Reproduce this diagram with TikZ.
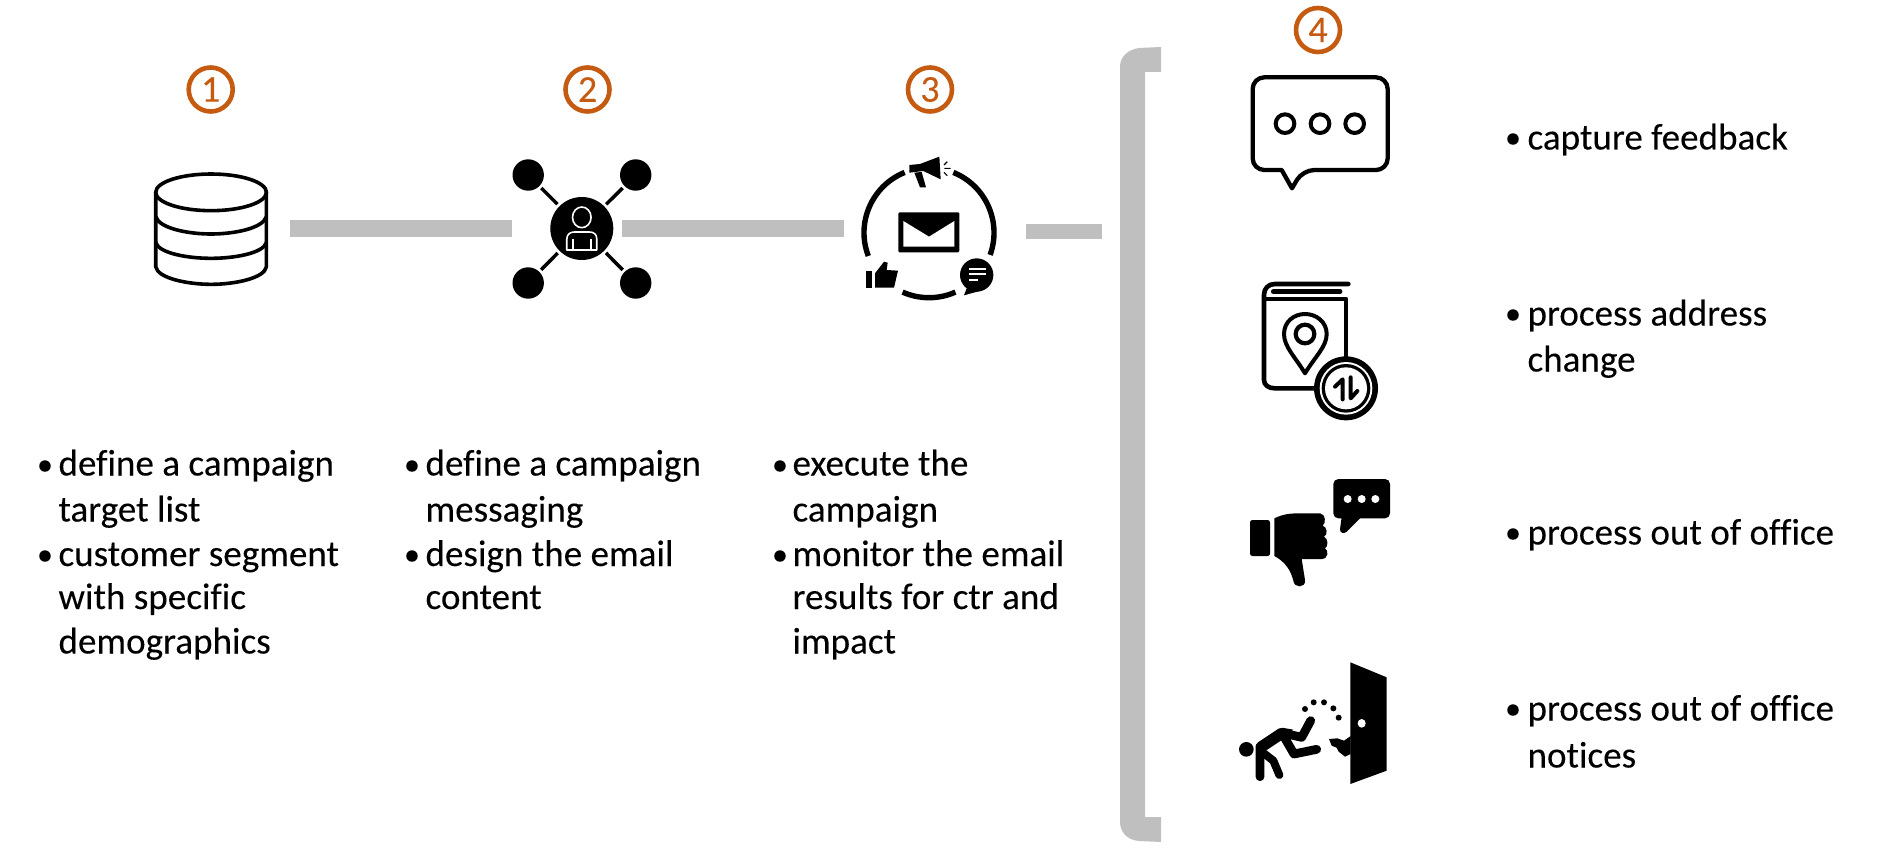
\documentclass[tikz,border=0pt]{standalone}
\usepackage{fontspec}
\setmainfont{Carlito}[Ligatures=NoCommon,FakeBold=0.12,AutoFakeBold=0.12]
\definecolor{rust}{HTML}{C55A11}
\definecolor{bargray}{HTML}{BFBFBF}
\tikzset{
  zs/.style 2 args={shift={(#1,#2)},x=.16667pt,y=-.16667pt},
  zw/.style 2 args={shift={(#1,#2)},x=.17857pt,y=-.16667pt},
  numcirc/.style={circle,draw=rust,line width=2.3pt,minimum size=22pt,inner sep=0pt,outer sep=0pt,text=rust,font=\fontsize{19}{19}\bfseries},
  txt/.style={anchor=base west,inner sep=0pt,outer sep=0pt,font=\fontsize{18.55}{22}\bfseries},
  bul/.style={anchor=base,inner sep=0pt,outer sep=0pt,font=\fontsize{16}{22}\selectfont},
  bar/.style={draw=bargray,line cap=butt},
  sat/.style={circle,fill=black,minimum size=15.7pt,inner sep=0pt,outer sep=0pt},
  spoke/.style={draw=black,line width=1.75pt,shorten <=1.4pt,shorten >=1.45pt},
  iconline/.style={draw=black,line cap=round,line join=round,fill=none},
}
\begin{document}
\begin{tikzpicture}[x=.5pt,y=-.5pt]
\useasboundingbox (0,0) rectangle (1884,866);
% number badges
\node[numcirc] (n1) at (210.7,89.5) {1};
\node[numcirc] (n2) at (587.5,89.5) {2};
\node[numcirc] (n3) at (930,89.5) {3};
\node[numcirc] (n4) at (1318,30) {4};
% anchor nodes of the flow
\node[minimum width=57pt,minimum height=55.5pt,inner sep=0pt,outer sep=0pt] (db) at (211.4,228.5) {};
\node[circle,fill=black,minimum size=31.5pt,inner sep=0pt,outer sep=0pt] (hub) at (581.8,228.5) {};
\node[circle,minimum size=67.5pt,inner sep=0pt,outer sep=0pt] (cyc) at (929,232.7) {};
\coordinate (brk) at (1120,231.5);
% database
\begin{scope}[zw={120}{40}]
\draw[iconline,line width=1.8pt] (255,457) ellipse [x radius=155,y radius=55];
\draw[iconline,line width=1.8pt] (100,457) -- (100,680) .. controls (105,715) and (190,733) .. (255,733) .. controls (320,733) and (405,715) .. (410,680) -- (410,457);
\draw[iconline,line width=1.8pt] (100,530) .. controls (110,565) and (190,582) .. (255,582) .. controls (320,582) and (400,565) .. (410,530);
\draw[iconline,line width=1.8pt] (100,608) .. controls (110,640) and (190,655) .. (255,655) .. controls (320,655) and (400,640) .. (410,608);
\end{scope}
% hub
\node[sat] (s1) at (528.2,175) {};
\node[sat] (s2) at (635.7,175) {};
\node[sat] (s3) at (528.2,283) {};
\node[sat] (s4) at (635.7,283) {};
\draw[spoke] (s1) -- (hub);
\draw[spoke] (s2) -- (hub);
\draw[spoke] (s3) -- (hub);
\draw[spoke] (s4) -- (hub);
\begin{scope}[zw={120}{40}]
\draw[draw=white,line width=.8pt] (1293,532) ellipse [x radius=26,y radius=31];
\draw[draw=white,line width=.8pt,line join=round] (1251,630) -- (1251,597) .. controls (1251,582) and (1262,576) .. (1272,576) -- (1314,576) .. controls (1326,576) and (1335,582) .. (1335,597) -- (1335,630) -- cycle;
\draw[draw=white,line width=.8pt] (1268,598) -- (1268,630) (1318,598) -- (1318,630);
\end{scope}
% campaign cycle
\draw[iconline,line cap=butt,line width=2.7pt] (929,232.7) ++(-68:65) arc[start angle=-68,end angle=20,radius=65];
\draw[iconline,line cap=butt,line width=2.7pt] (929,232.7) ++(66:65) arc[start angle=66,end angle=114,radius=65];
\draw[iconline,line cap=butt,line width=2.7pt] (929,232.7) ++(159:65) arc[start angle=159,end angle=248,radius=65];
\begin{scope}[zs={820}{40}]
\fill[rounded corners=.6pt] (235,517) rectangle (418,637);
\fill[white] (250,543) -- (327,590) -- (403,543) -- (403,620) -- (250,620) -- cycle;
\fill (268,375) -- (300,372) -- (358,350) -- (362,418) -- (310,393) -- (268,398) -- cycle;
\fill (283,398) -- (300,442) -- (318,442) -- (305,396) -- cycle;
\draw[line width=.55pt] (372,375) -- (382,365) (373,385) -- (392,385) (372,397) -- (382,407);
\fill (138,693) rectangle (157,743);
\fill (165,743) -- (222,743) -- (234,692) -- (200,690) -- (203,668) -- (192,665) -- (165,700) -- cycle;
\fill (470,705) circle[radius=50];
\fill (440,745) -- (432,766) -- (482,752) -- cycle;
\draw[white,line width=1.15pt] (447,688) -- (498,688) (447,703) -- (498,703) (447,720) -- (473,720);
\end{scope}
% connectors
\draw[bar,line width=8.5pt,shorten <=10.8pt,shorten >=19.2pt] (db.east) -- (hub.west);
\draw[bar,line width=8.5pt,shorten <=4.35pt,shorten >=8.75pt] (hub.east) -- (cyc.west |- hub.east);
\draw[bar,line width=7.5pt,shorten <=14.75pt,shorten >=9pt] (cyc.east |- brk) -- (brk);
% bracket
\fill[bargray] (1161,47) -- (1161,72) -- (1145,72) -- (1145,817) -- (1161,817) -- (1161,842) -- (1139,841) .. controls (1127,840) and (1120,832) .. (1120,822) -- (1120,67) .. controls (1120,57) and (1127,50) .. (1139,48) -- cycle;
% feedback bubble
\begin{scope}[zs={1220}{0}]
\draw[iconline,line width=2.15pt] (216,565) -- (185,510) [rounded corners=5.8pt] -- (98,510) -- (98,232) -- (503,232) -- (503,510) -- (248,510) [sharp corners] -- cycle;
\draw[iconline,line width=2pt] (195,371) circle[radius=28] (300,371) circle[radius=28] (404,371) circle[radius=28];
\end{scope}
% address book
\begin{scope}[zs={1220}{260}]
\draw[iconline,line width=2.3pt] (385,72) -- (165,72) .. controls (145,72) and (132,85) .. (132,105) -- (132,360) .. controls (132,375) and (145,385) .. (165,385) -- (290,385);
\draw[iconline,line width=2.4pt] (160,95) -- (360,95);
\draw[iconline,line width=2.3pt] (140,117) -- (378,117) -- (378,295);
\draw[iconline,line width=2pt] (255,340) .. controls (225,290) and (192,260) .. (192,222) .. controls (192,185) and (222,162) .. (255,162) .. controls (288,162) and (320,185) .. (320,222) .. controls (320,260) and (285,290) .. (255,340) -- cycle;
\draw[iconline,line width=2.1pt] (255,222) circle[radius=28];
\fill (378,385) circle[radius=96];
\fill[white] (378,385) circle[radius=79];
\fill (378,385) circle[radius=73];
\fill[white] (378,385) circle[radius=63];
\draw[iconline,line width=2pt] (368,418) -- (368,358) -- (345,380);
\draw[iconline,line width=2pt] (392,352) -- (392,415) -- (412,393);
\end{scope}
% thumb down with bubble
\begin{scope}[zs={1220}{260}]
\fill[rounded corners=1.2pt] (90,780) rectangle (150,888);
\fill (163,775) .. controls (190,762) and (210,760) .. (240,760) -- (300,760) .. controls (318,762) and (318,790) .. (308,797) .. controls (322,800) and (324,825) .. (312,830) .. controls (325,835) and (325,860) .. (315,865) .. controls (326,870) and (326,897) .. (305,897) -- (245,897) -- (255,960) .. controls (258,985) and (222,985) .. (220,962) .. controls (212,930) and (195,905) .. (163,888) -- cycle;
\fill[rounded corners=2.5pt] (340,657) rectangle (510,775);
\fill (365,770) -- (360,808) .. controls (360,820) and (372,822) .. (380,815) -- (425,770) -- cycle;
\fill[white] (383,717) circle[radius=12] (425,717) circle[radius=12] (466,717) circle[radius=12];
\end{scope}
% door
\begin{scope}[zs={1220}{640}]
\fill (391,67) -- (500,112) -- (500,392) -- (391,432) -- cycle;
\fill[white] (425,250) ellipse [x radius=12,y radius=13];
\fill (327,297) -- (352,295) -- (372,302) -- (392,288) -- (392,342) -- (375,350) -- (356,335) -- (350,323) -- (335,317) -- cycle;
\fill (255,207) circle[radius=9] (281,187) circle[radius=9] (312,187) circle[radius=9] (340,205) circle[radius=9] (356,233) circle[radius=9];
\fill (79,328) circle[radius=22];
\draw[iconline,line width=4.4pt] (120,410) -- (120,320) -- (185,278) -- (245,292) -- (272,242);
\draw[iconline,line width=5.6pt,line cap=butt] (122,322) -- (185,280) -- (215,285);
\draw[iconline,line width=4.4pt] (185,278) -- (222,342) -- (290,328);
\draw[iconline,line width=4pt] (125,335) -- (160,362) -- (178,405);
\end{scope}
% texts column 1
\node[bul] (b11) at (45,475) {•};
\node[txt] (t11) at (58.5,475.5) {define a campaign};
\node[txt] (t12) at (58.5,521.5) {target list};
\node[bul] (b12) at (45,565) {•};
\node[txt] (t13) at (58.5,566) {customer segment};
\node[txt] (t14) at (58.5,609) {with specific};
\node[txt] (t15) at (58.5,653.5) {demographics};
% column 2
\node[bul] (b21) at (412,475) {•};
\node[txt] (t21) at (425.5,475.5) {define a campaign};
\node[txt] (t22) at (425.5,521.5) {messaging};
\node[bul] (b22) at (412,565) {•};
\node[txt] (t23) at (425.5,566) {design the email};
\node[txt] (t24) at (425.5,609) {content};
% column 3
\node[bul] (b31) at (780,475) {•};
\node[txt] (t31) at (792.5,475.5) {execute the};
\node[txt] (t32) at (792.5,521.5) {campaign};
\node[bul] (b32) at (780,565) {•};
\node[txt] (t33) at (792.5,566) {monitor the email};
\node[txt] (t34) at (792.5,609) {results for ctr and};
\node[txt] (t35) at (792.5,653.5) {impact};
% column 4
\node[bul] (b41) at (1513,148) {•};
\node[txt] (t41) at (1527.5,149.5) {capture feedback};
\node[bul] (b42) at (1513,324) {•};
\node[txt] (t42) at (1527.5,325.5) {process address};
\node[txt] (t43) at (1527.5,371.5) {change};
\node[bul] (b43) at (1513,543) {•};
\node[txt] (t44) at (1527.5,544.5) {process out of office};
\node[bul] (b44) at (1513,719) {•};
\node[txt] (t45) at (1527.5,720.5) {process out of office};
\node[txt] (t46) at (1527.5,767.5) {notices};
\end{tikzpicture}
\end{document}
